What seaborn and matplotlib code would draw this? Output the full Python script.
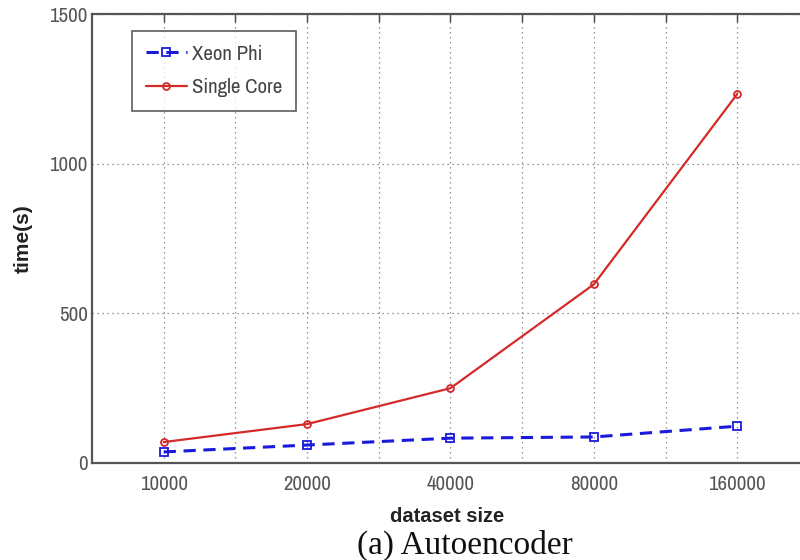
import matplotlib
matplotlib.use("Agg")
import matplotlib.pyplot as plt
import seaborn as sns
import numpy as np
import pandas as pd
from matplotlib.ticker import FixedLocator, NullFormatter, FixedFormatter

sizes = [10000, 20000, 40000, 80000, 160000]
xeon_phi = [37, 60, 83, 87, 123]
single_core = [70, 130, 250, 597, 1233]
tick_labels = ["10000", "20000", "40000", "80000", "160000"]

sns.set_theme(style="white")
NARROW = ['Archivo Narrow', 'PT Sans Narrow', 'Liberation Sans', 'DejaVu Sans']
SANS = ['Liberation Sans', 'DejaVu Sans']
plt.rcParams['font.family'] = NARROW

fig = plt.figure(figsize=(8, 5.6), dpi=100)
ax = fig.add_axes([92/800, 1-463/560, 717/800, 449/560])

df_x = pd.DataFrame({"size": sizes, "time": xeon_phi})
df_s = pd.DataFrame({"size": sizes, "time": single_core})

sns.lineplot(data=df_x, x="size", y="time", ax=ax, color="#1a1adc", lw=2.2,
             linestyle=(0, (4, 2.5)), marker="s", markersize=6, markerfacecolor="none",
             markeredgecolor="#1a1adc", markeredgewidth=1.3, label="Xeon Phi")
sns.lineplot(data=df_s, x="size", y="time", ax=ax, color="#d42a2a", lw=1.6,
             marker="o", markersize=5, markerfacecolor="none",
             markeredgecolor="#d42a2a", markeredgewidth=1.3, label="Single Core")

ax.set_xscale("log", base=2)
ax.set_xlim(sizes[0] / np.sqrt(2), sizes[-1] * np.sqrt(2))
ax.set_ylim(0, 1500)

half = [sizes[0] * 2 ** (k / 2) for k in range(0, 9)]
ax.xaxis.set_major_locator(FixedLocator(sizes))
ax.xaxis.set_major_formatter(FixedFormatter(tick_labels))
ax.xaxis.set_minor_locator(FixedLocator([h for h in half if h not in sizes]))
ax.xaxis.set_minor_formatter(NullFormatter())
ax.set_yticks([0, 500, 1000, 1500])

ax.grid(True, which="both", axis="x", linestyle=(0, (1, 3)), color="#777777", lw=0.9)
ax.grid(True, which="major", axis="y", linestyle=(0, (1, 3)), color="#777777", lw=0.9)

ax.tick_params(axis="both", which="both", direction="in", top=True, right=True,
               length=6, width=1, color="#444444", labelsize=15, labelcolor="#555555")
ax.tick_params(axis="x", pad=9)
ax.tick_params(axis="y", pad=3)

for s in ["left", "bottom", "top"]:
    ax.spines[s].set_color("#555555")
    ax.spines[s].set_linewidth(1.6)
ax.spines["right"].set_visible(False)

ax.set_xlabel("dataset size", fontsize=14.5, fontweight="bold", color="#222222", family=SANS)
ax.xaxis.set_label_coords((447-92)/717, (463-507)/449)
ax.set_ylabel("time(s)", fontsize=15, fontweight="bold", color="#222222", family=SANS)
ax.yaxis.set_label_coords(-0.083, 0.5)

leg = ax.legend(loc="upper left", bbox_to_anchor=((132-92)/717, 1-(31-14)/449),
                frameon=True, fancybox=False, fontsize=15, handlelength=2.0,
                borderpad=0.65, labelspacing=0.7, handletextpad=0.25, borderaxespad=0)
leg.get_frame().set_edgecolor("#333333")
leg.get_frame().set_linewidth(1.2)
for t in leg.get_texts():
    t.set_color("#444444")

fig.text(465/800, 1-545/560, "(a) Autoencoder", ha="center", va="center",
         fontsize=24, family=["Liberation Serif", "DejaVu Serif"], color="#111111")

fig.savefig("out.png", dpi=100)
